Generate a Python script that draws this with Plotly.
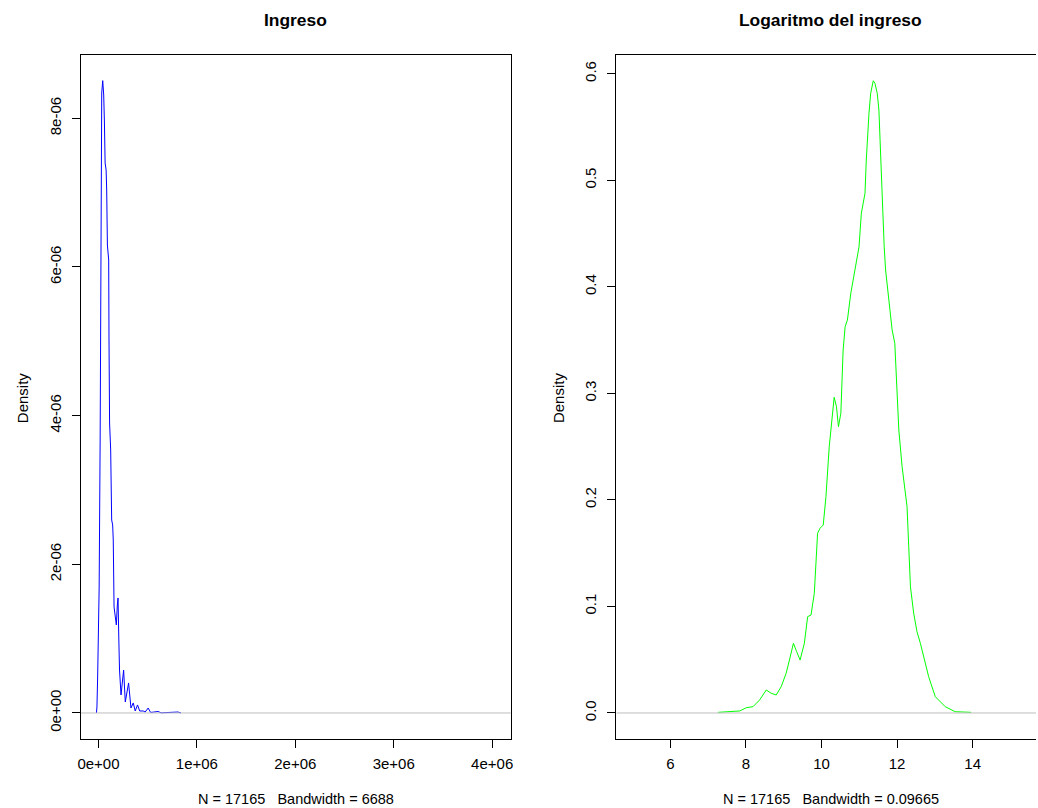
import plotly.graph_objects as go

# Kernel density of income (N = 17165, bw = 6688)
ingreso_x = [-20000, -15200, -8100, 7100, 17200, 22200, 25300, 33300, 43400, 53500,
             60600, 67700, 77800, 83800, 90900, 104000, 107100, 113100, 124200, 134300,
             144400, 150500, 158600, 181800, 191900, 199000, 207100, 214100, 229300, 255600,
             272700, 306100, 330300, 353500, 373700, 397000, 419200, 454500, 474700, 505100,
             530300, 606100, 636400, 808100, 838400]
ingreso_y = [0.0, 0.081e-6, 0.484e-6, 1.681e-6, 3.672e-6, 6.228e-6, 7.546e-6, 8.340e-6, 8.506e-6, 8.313e-6,
             7.950e-6, 7.398e-6, 7.304e-6, 7.035e-6, 6.295e-6, 6.094e-6, 5.044e-6, 3.901e-6, 3.538e-6, 2.596e-6,
             2.529e-6, 2.327e-6, 1.426e-6, 1.184e-6, 1.453e-6, 1.547e-6, 0.982e-6, 0.578e-6, 0.242e-6, 0.578e-6,
             0.148e-6, 0.404e-6, 0.067e-6, 0.135e-6, 0.027e-6, 0.108e-6, 0.027e-6, 0.027e-6, 0.013e-6, 0.067e-6,
             0.007e-6, 0.020e-6, 0.002e-6, 0.013e-6, 0.0]

# Kernel density of log income (N = 17165, bw = 0.09665)
log_x = [7.263, 7.834, 8.011, 8.184, 8.361, 8.537, 8.668, 8.800, 8.932, 9.063,
         9.150, 9.255, 9.342, 9.432, 9.545, 9.632, 9.721, 9.808, 9.895, 9.958,
         10.045, 10.116, 10.203, 10.274, 10.334, 10.395, 10.447, 10.511, 10.537, 10.571,
         10.624, 10.684, 10.774, 10.861, 10.921, 10.992, 11.053, 11.097, 11.150, 11.184,
         11.211, 11.255, 11.300, 11.342, 11.368, 11.413, 11.474, 11.518, 11.545, 11.571,
         11.589, 11.624, 11.658, 11.695, 11.747, 11.800, 11.868, 11.939, 11.984, 12.045,
         12.132, 12.263, 12.308, 12.353, 12.439, 12.526, 12.616, 12.703, 12.834, 13.011,
         13.274, 13.537, 13.958]
log_y = [0.0006, 0.0019, 0.0050, 0.0059, 0.0122, 0.0216, 0.0185, 0.0169, 0.0247, 0.0373,
         0.0497, 0.0654, 0.0575, 0.0497, 0.0654, 0.0904, 0.0920, 0.1123, 0.1687, 0.1733,
         0.1764, 0.2030, 0.2499, 0.2781, 0.2963, 0.2875, 0.2687, 0.2813, 0.3125, 0.3407,
         0.3626, 0.3688, 0.3939, 0.4127, 0.4221, 0.4376, 0.4690, 0.4784, 0.4877, 0.5190,
         0.5409, 0.5628, 0.5816, 0.5910, 0.5934, 0.5910, 0.5816, 0.5659, 0.5409, 0.5127,
         0.4877, 0.4627, 0.4376, 0.4158, 0.3970, 0.3782, 0.3595, 0.3470, 0.3100, 0.2656,
         0.2312, 0.1936, 0.1561, 0.1185, 0.0936, 0.0763, 0.0654, 0.0528, 0.0341, 0.0153,
         0.0059, 0.0012, 0.0006]

ing_xticks = [0, 1e6, 2e6, 3e6, 4e6]
ing_xlabels = ["0e+00", "1e+06", "2e+06", "3e+06", "4e+06"]
ing_yticks = [0, 2e-6, 4e-6, 6e-6, 8e-6]
ing_ylabels = ["0e+00", "2e-06", "4e-06", "6e-06", "8e-06"]
log_xticks = [6, 8, 10, 12, 14]
log_yticks = [0.0, 0.1, 0.2, 0.3, 0.4, 0.5, 0.6]
log_ylabels = ["0.0", "0.1", "0.2", "0.3", "0.4", "0.5", "0.6"]

titles = ["Ingreso", "Logaritmo del ingreso"]
subtitles = ["N = 17165   Bandwidth = 6688", "N = 17165   Bandwidth = 0.09665"]

W, H = 1038, 808
FONT = "Liberation Sans, Arial, sans-serif"

x1_range = [-176768, 4188889]
x2_range = [4.571, 15.676]
y1_range = [-0.354e-6, 8.847e-6]
y2_range = [-0.0247, 0.6173]
dom_y = [(H - 739.3) / H, (H - 55.3) / H]
dom_x1 = [77.5 / W, 509.7 / W]
dom_x2 = [616 / W, 1.0]

fig = go.Figure()
fig.add_trace(go.Scatter(x=ingreso_x, y=ingreso_y, mode="lines",
                         line=dict(color="#0000FF", width=1), xaxis="x", yaxis="y",
                         showlegend=False, hoverinfo="skip"))
fig.add_trace(go.Scatter(x=log_x, y=log_y, mode="lines",
                         line=dict(color="#00FF00", width=1), xaxis="x2", yaxis="y2",
                         showlegend=False, hoverinfo="skip"))

axis_common = dict(showgrid=False, zeroline=False, showline=True, linecolor="black",
                   linewidth=1.2, ticks="outside", ticklen=8, tickcolor="black",
                   tickwidth=1, tickfont=dict(family=FONT, size=15, color="black"))

fig.update_layout(
    width=W, height=H, autosize=False,
    margin=dict(l=0, r=0, t=0, b=0),
    paper_bgcolor="white", plot_bgcolor="white",
    xaxis=dict(domain=dom_x1, range=x1_range, tickvals=ing_xticks, ticktext=ing_xlabels,
               mirror=True, anchor="y", ticklabelstandoff=3, **axis_common),
    yaxis=dict(domain=dom_y, range=y1_range, tickvals=ing_yticks, ticktext=ing_ylabels,
               mirror=True, anchor="x", tickangle=-90, ticklabelstandoff=5, **axis_common),
    xaxis2=dict(domain=dom_x2, range=x2_range, tickvals=log_xticks,
                mirror=True, anchor="y2", ticklabelstandoff=3, **axis_common),
    yaxis2=dict(domain=dom_y, range=y2_range, tickvals=log_yticks, ticktext=log_ylabels,
                mirror=False, anchor="x2", tickangle=-90, ticklabelstandoff=5, **axis_common),
)

# zero reference lines
for xr, yr, xa, ya in [(x1_range, y1_range, "x", "y"), (x2_range, y2_range, "x2", "y2")]:
    fig.add_shape(type="line", x0=xr[0], x1=xr[1], y0=0, y1=0, xref=xa, yref=ya,
                  line=dict(color="#BEBEBE", width=1), layer="above")

centers = [(dom_x1[0] + dom_x1[1]) / 2, (616 + 1046.9) / 2 / W]
for cx, t, s in zip(centers, titles, subtitles):
    fig.add_annotation(x=cx, y=(H - 20) / H, xref="paper", yref="paper", text="<b>%s</b>" % t,
                       showarrow=False, xanchor="center", yanchor="middle",
                       font=dict(family=FONT, size=17.4, color="black"))
    fig.add_annotation(x=cx, y=(H - 799) / H, xref="paper", yref="paper", text=s,
                       showarrow=False, xanchor="center", yanchor="middle",
                       font=dict(family=FONT, size=14.5, color="black"))

for px in [18, 558]:
    fig.add_annotation(x=px / W, y=(H - 397.3) / H, xref="paper", yref="paper", text="Density",
                       showarrow=False, xanchor="center", yanchor="middle", textangle=-90,
                       font=dict(family=FONT, size=15, color="black"))

fig.write_html("out.html")
